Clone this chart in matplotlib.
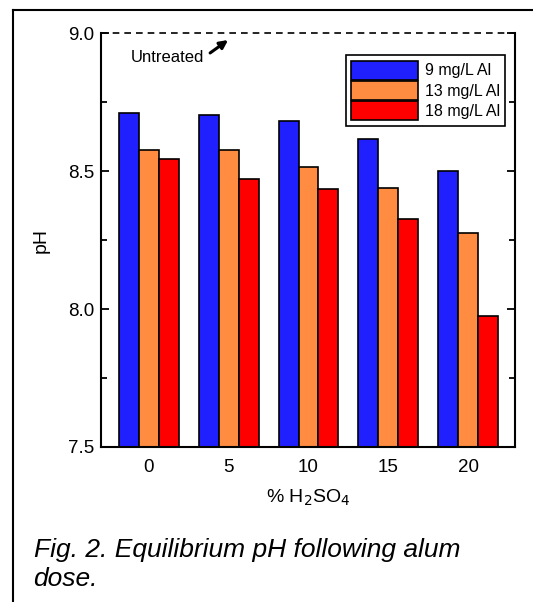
import numpy as np
import matplotlib
matplotlib.use("Agg")
from matplotlib import pyplot as plt
from matplotlib.ticker import MultipleLocator, FormatStrFormatter
from matplotlib.lines import Line2D

plt.rcParams['font.family'] = ['Liberation Sans', 'DejaVu Sans']

acid = ['0', '5', '10', '15', '20']
ph_9 = [8.71, 8.705, 8.68, 8.615, 8.50]
ph_13 = [8.575, 8.575, 8.515, 8.44, 8.275]
ph_18 = [8.545, 8.47, 8.435, 8.325, 7.975]
doses = ['9 mg/L Al', '13 mg/L Al', '18 mg/L Al']
colors = ['#2020ff', '#ff8c40', '#ff0000']
untreated = 9.0

fig = plt.figure(figsize=(5.33, 6.02), dpi=100)
ax = fig.add_axes([0.1895, 0.2575, 0.7765, 0.6875])

x = np.arange(len(acid))
w = 0.25
for i, (vals, lab, c) in enumerate(zip([ph_9, ph_13, ph_18], doses, colors)):
    ax.bar(x + (i - 1) * w, vals, w, color=c, edgecolor='black',
           linewidth=1.2, label=lab, zorder=2)

ax.axhline(untreated, color='black', ls=(0, (4, 3)), lw=1.2, clip_on=False, zorder=3)
ax.text(0.70, 8.91, 'Untreated', fontsize=12, ha='right', va='center')
ax.annotate('', xy=(0.995, 8.975), xytext=(0.77, 8.928),
            arrowprops=dict(arrowstyle='-|>', color='black', lw=2.2,
                            mutation_scale=12, shrinkA=0, shrinkB=0))

ax.set_ylim(7.5, 9.0)
ax.set_xlim(-0.594, 4.58)
ax.set_xticks(x)
ax.set_xticklabels(acid)
ax.yaxis.set_major_locator(MultipleLocator(0.5))
ax.yaxis.set_minor_locator(MultipleLocator(0.25))
ax.yaxis.set_major_formatter(FormatStrFormatter('%.1f'))
ax.tick_params(axis='y', which='both', direction='in', left=True, right=True,
               width=1.3, labelsize=13.5, pad=5)
ax.tick_params(axis='y', which='major', length=6)
ax.tick_params(axis='y', which='minor', length=4)
ax.tick_params(axis='x', length=0, labelsize=13.5, pad=9)
ax.spines['top'].set_visible(False)
for s in ['left', 'right', 'bottom']:
    ax.spines[s].set_linewidth(1.5)

ax.set_ylabel('pH', fontsize=14, labelpad=13)
ax.set_xlabel('% H$_2$SO$_4$', fontsize=14, labelpad=8)

leg = ax.legend(loc='upper right', bbox_to_anchor=(0.977, 0.947), fontsize=11.5,
                handlelength=4.2, handleheight=1.45, labelspacing=0.08,
                handletextpad=0.4, borderpad=0.35, borderaxespad=0,
                fancybox=False, framealpha=1, edgecolor='black')
leg.get_frame().set_linewidth(1.2)

fig.text(0.063, 0.106, 'Fig. 2. Equilibrium pH following alum\ndose.',
         fontsize=19, style='italic', ha='left', va='top', linespacing=1.25)

# outer frame edges
fig.add_artist(Line2D([0.024, 0.024], [0, 0.983], color='black', lw=1.5))
fig.add_artist(Line2D([0.024, 1.0], [0.983, 0.983], color='black', lw=1.5))

fig.savefig('out.png', dpi=100)
